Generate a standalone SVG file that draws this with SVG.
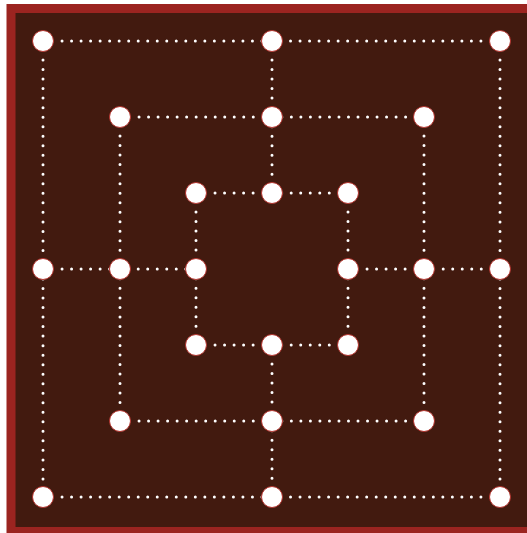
<svg xmlns="http://www.w3.org/2000/svg" width="527" height="533" viewBox="0 0 527 533">
<style>
.frame{fill:#421a0f;stroke:#9b2420;stroke-width:9}
.ln{stroke:#ffffff;stroke-width:3;stroke-linecap:round;stroke-dasharray:0 9.52;fill:none}
.pt{fill:#ffffff;stroke:#b0302a;stroke-width:1}
</style>
<rect x="0" y="0" width="527" height="533" fill="#ffffff"/>
<rect class="frame" x="11" y="8.5" width="528" height="523"/>
<g id="connectors">
<path class="ln" d="M43 41H500M120 117H424M196 193H348M196 345H348M120 421H424M43 497H500"/>
<path class="ln" d="M43 41V497M120 117V421M196 193V345M348 193V345M424 117V421M500 41V497"/>
<path class="ln" d="M43 269H196M348 269H500M272 41V193M272 345V497"/>
</g>
<g id="n-a1"><circle class="pt" cx="43" cy="41" r="10.5"/></g>
<g id="n-d1"><circle class="pt" cx="272" cy="41" r="10.5"/></g>
<g id="n-g1"><circle class="pt" cx="500" cy="41" r="10.5"/></g>
<g id="n-b2"><circle class="pt" cx="120" cy="117" r="10.5"/></g>
<g id="n-d2"><circle class="pt" cx="272" cy="117" r="10.5"/></g>
<g id="n-f2"><circle class="pt" cx="424" cy="117" r="10.5"/></g>
<g id="n-c3"><circle class="pt" cx="196" cy="193" r="10.5"/></g>
<g id="n-d3"><circle class="pt" cx="272" cy="193" r="10.5"/></g>
<g id="n-e3"><circle class="pt" cx="348" cy="193" r="10.5"/></g>
<g id="n-a4"><circle class="pt" cx="43" cy="269" r="10.5"/></g>
<g id="n-b4"><circle class="pt" cx="120" cy="269" r="10.5"/></g>
<g id="n-c4"><circle class="pt" cx="196" cy="269" r="10.5"/></g>
<g id="n-e4"><circle class="pt" cx="348" cy="269" r="10.5"/></g>
<g id="n-f4"><circle class="pt" cx="424" cy="269" r="10.5"/></g>
<g id="n-g4"><circle class="pt" cx="500" cy="269" r="10.5"/></g>
<g id="n-c5"><circle class="pt" cx="196" cy="345" r="10.5"/></g>
<g id="n-d5"><circle class="pt" cx="272" cy="345" r="10.5"/></g>
<g id="n-e5"><circle class="pt" cx="348" cy="345" r="10.5"/></g>
<g id="n-b6"><circle class="pt" cx="120" cy="421" r="10.5"/></g>
<g id="n-d6"><circle class="pt" cx="272" cy="421" r="10.5"/></g>
<g id="n-f6"><circle class="pt" cx="424" cy="421" r="10.5"/></g>
<g id="n-a7"><circle class="pt" cx="43" cy="497" r="10.5"/></g>
<g id="n-d7"><circle class="pt" cx="272" cy="497" r="10.5"/></g>
<g id="n-g7"><circle class="pt" cx="500" cy="497" r="10.5"/></g>
</svg>
